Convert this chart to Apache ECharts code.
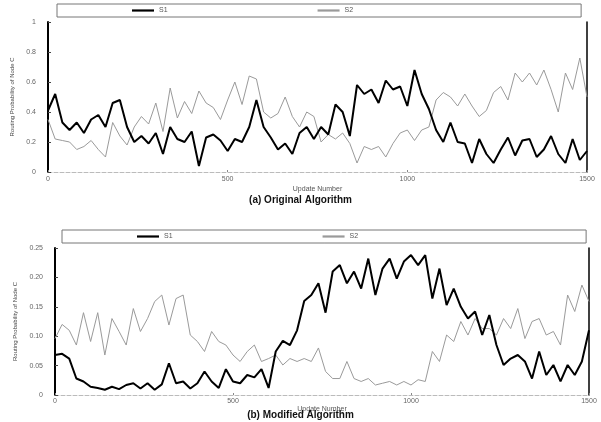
<!DOCTYPE html>
<html><head><meta charset="utf-8">
<script src="https://cdn.jsdelivr.net/npm/echarts@6/dist/echarts.min.js"></script>
<style>html,body{margin:0;padding:0;background:#fff}#c{width:601px;height:422px}</style>
</head><body><div id="c"></div>
<script>
// ---- data ----
const updates = [0,20,40,60,80,100,120,140,160,180,200,220,240,260,280,300,320,340,360,380,400,420,440,460,480,500,520,540,560,580,600,620,640,660,680,700,720,740,760,780,800,820,840,860,880,900,920,940,960,980,1000,1020,1040,1060,1080,1100,1120,1140,1160,1180,1200,1220,1240,1260,1280,1300,1320,1340,1360,1380,1400,1420,1440,1460,1480,1500];
const seriesNames = ['S1','S2'];
// (a) Original Algorithm
const origBlack = [0.41,0.52,0.33,0.28,0.33,0.26,0.35,0.38,0.30,0.46,0.48,0.30,0.20,0.24,0.19,0.26,0.12,0.30,0.22,0.20,0.27,0.04,0.23,0.25,0.21,0.14,0.22,0.20,0.30,0.48,0.30,0.23,0.15,0.19,0.12,0.26,0.30,0.22,0.30,0.25,0.45,0.40,0.24,0.58,0.52,0.55,0.46,0.61,0.55,0.57,0.44,0.68,0.52,0.42,0.28,0.20,0.33,0.20,0.19,0.06,0.22,0.12,0.06,0.15,0.23,0.11,0.21,0.22,0.10,0.15,0.24,0.12,0.06,0.22,0.08,0.14];
const origGray = [0.35,0.22,0.21,0.20,0.15,0.17,0.21,0.15,0.10,0.33,0.24,0.18,0.30,0.37,0.32,0.46,0.27,0.56,0.36,0.47,0.39,0.54,0.46,0.43,0.35,0.48,0.60,0.45,0.64,0.62,0.40,0.36,0.39,0.50,0.37,0.30,0.40,0.37,0.20,0.25,0.22,0.26,0.19,0.06,0.17,0.15,0.17,0.10,0.19,0.26,0.28,0.21,0.28,0.30,0.48,0.53,0.50,0.44,0.52,0.44,0.37,0.41,0.53,0.57,0.48,0.66,0.60,0.66,0.58,0.68,0.55,0.40,0.66,0.55,0.76,0.50];
// (b) Modified Algorithm
const modBlack = [0.068,0.070,0.062,0.028,0.023,0.014,0.012,0.009,0.014,0.010,0.017,0.020,0.011,0.020,0.009,0.018,0.054,0.020,0.023,0.011,0.020,0.040,0.023,0.012,0.044,0.023,0.020,0.034,0.030,0.044,0.012,0.074,0.092,0.085,0.110,0.160,0.170,0.190,0.140,0.210,0.221,0.190,0.210,0.181,0.232,0.170,0.215,0.232,0.198,0.227,0.238,0.221,0.238,0.164,0.215,0.153,0.181,0.150,0.130,0.142,0.102,0.136,0.085,0.051,0.062,0.068,0.057,0.028,0.074,0.034,0.051,0.023,0.051,0.034,0.057,0.110];
const modGray = [0.096,0.120,0.110,0.085,0.140,0.091,0.140,0.068,0.130,0.108,0.085,0.147,0.108,0.130,0.159,0.170,0.119,0.164,0.170,0.102,0.091,0.074,0.108,0.091,0.085,0.068,0.057,0.074,0.085,0.057,0.062,0.068,0.051,0.062,0.057,0.062,0.057,0.080,0.040,0.028,0.028,0.057,0.028,0.023,0.028,0.017,0.020,0.023,0.017,0.023,0.017,0.026,0.023,0.074,0.057,0.102,0.091,0.125,0.102,0.130,0.113,0.113,0.102,0.130,0.113,0.147,0.096,0.125,0.130,0.102,0.108,0.085,0.170,0.142,0.187,0.159];
const xTicks = ['0','500','1000','1500'];
const yLabelsTop = ['0','0.2','0.4','0.6','0.8','1'];
const yLabelsBottom = ['0','0.05','0.10','0.15','0.20','0.25'];
const xTitle = 'Update Number';
const yTitle = 'Routing Probability of Node C';
const titles = ['(a) Original Algorithm','(b) Modified Algorithm'];

const pairs = (ys) => updates.map((u,i)=>[u, ys[i]]);
const FONT = 'Liberation Sans';
const labelStyle = {fontSize:7, color:'#666', fontFamily:FONT};

function xAx(gi, gap, margin){
  return {type:'value', gridIndex:gi, min:0, max:1500, interval:500,
    axisLine:{show:true, onZero:false, lineStyle:{color:'#bbb', width:1, type:'dashed'}},
    axisTick:{show:true, inside:true, length:2, lineStyle:{color:'#888'}},
    splitLine:{show:false},
    axisLabel:Object.assign({margin:margin, formatter:v=>xTicks[Math.round(v/500)]}, labelStyle),
    name:xTitle, nameLocation:'middle', nameGap:gap,
    nameTextStyle:{fontSize:7, color:'#555', fontFamily:FONT}};
}
function yAx(gi, max, interval, labels){
  return {type:'value', gridIndex:gi, min:0, max:max, interval:interval,
    axisLine:{show:true, lineStyle:{color:'#000', width:2}},
    axisTick:{show:true, inside:true, length:3, lineStyle:{color:'#444'}},
    splitLine:{show:false},
    axisLabel:Object.assign({margin:12, formatter:v=>labels[Math.round(v/interval)]}, labelStyle),
    name:yTitle, nameLocation:'middle', nameGap:27, nameRotate:90,
    nameTextStyle:{fontSize:6, color:'#444', fontFamily:FONT}};
}
function yRight(gi, max){
  return {type:'value', gridIndex:gi, position:'right', min:0, max:max,
    axisLine:{show:true, lineStyle:{color:'#000', width:1.5}},
    axisTick:{show:false}, axisLabel:{show:false}, splitLine:{show:false}};
}
function legend(top, left){
  return {top:top, left:left, orient:'horizontal', data:seriesNames,
    itemWidth:22, itemHeight:6, itemGap:150,
    padding:[3,228,3,75], borderColor:'#777', borderWidth:1,
    textStyle:{fontSize:7, color:'#555', fontFamily:FONT},
    icon:'path://M0,0 L10,0 L10,1 L0,1 Z'};
}
function lines(xi, yi, black, gray){
  return [
    {name:seriesNames[1], type:'line', xAxisIndex:xi, yAxisIndex:yi, data:pairs(gray), symbol:'none',
      lineStyle:{color:'#9a9a9a', width:1}, itemStyle:{color:'#9a9a9a'}, z:2},
    {name:seriesNames[0], type:'line', xAxisIndex:xi, yAxisIndex:yi, data:pairs(black), symbol:'none',
      lineStyle:{color:'#000', width:2}, itemStyle:{color:'#000'}, z:3}
  ];
}
const chart = echarts.init(document.getElementById('c'), null, {renderer:'canvas'});
chart.setOption({
  backgroundColor:'#fff',
  animation:false,
  title:[
    {text:titles[0], left:'center', top:190, textStyle:{fontSize:10, fontWeight:'bold', color:'#111', fontFamily:FONT}},
    {text:titles[1], left:'center', top:405, textStyle:{fontSize:10, fontWeight:'bold', color:'#111', fontFamily:FONT}}
  ],
  legend:[legend(4, 57), legend(230, 62)],
  grid:[
    {left:48, right:14, top:22, height:150, show:true, borderColor:'#ccc', borderWidth:0},
    {left:55, right:12, top:248, height:147, show:true, borderColor:'#ccc', borderWidth:0}
  ],
  xAxis:[xAx(0,14,4), xAx(1,1,3)],
  yAxis:[yAx(0,1,0.2,yLabelsTop),
         yAx(1,0.25,0.05,yLabelsBottom),
         yRight(0,1), yRight(1,0.25)],
  series:[].concat(lines(0,0,origBlack,origGray), lines(1,1,modBlack,modGray))
});
</script></body></html>
